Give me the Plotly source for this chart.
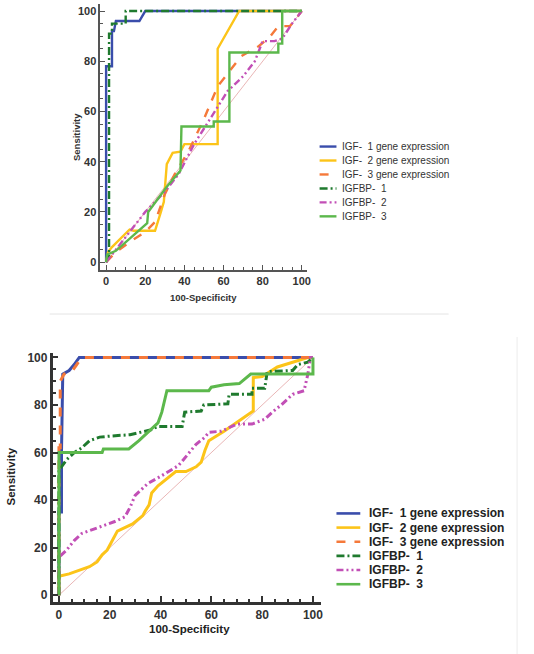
import plotly.graph_objects as go

# ---------------- data ----------------
series_names = ["IGF\u2010\u00a0 1 gene expression", "IGF\u2010\u00a0 2 gene expression",
                "IGF\u2010\u00a0 3 gene expression", "IGFBP\u2010\u00a0 1", "IGFBP\u2010\u00a0 2",
                "IGFBP\u2010\u00a0 3"]
colors = ["#3a4dab", "#fcc419", "#f5793a", "#1f7a2e", "#c24fb6", "#5cb84c"]
dashes = ["solid", "solid", "dash", "8px,3px,2px,3px", "7px,3px,2px,3px,2px,3px", "solid"]

tick_vals = [0, 20, 40, 60, 80, 100]

# top panel (100-Specificity, Sensitivity)
top_igf1_x = [0, 0, 3, 3, 4, 5, 17, 20, 100]
top_igf1_y = [0, 78, 78, 92, 92, 96, 96, 100, 100]
top_igf2_x = [0, 1, 3, 7, 12, 14, 25, 28, 29.5, 31, 34, 38, 40, 57, 57, 68, 100]
top_igf2_y = [0, 4, 6, 9, 13, 12.5, 12.5, 20, 24, 39, 43.5, 44, 47, 47, 85, 100, 100]
top_igf3_x = [0, 5, 12, 20, 25, 30, 35, 42, 50, 57, 63, 69, 78, 84, 88, 94, 100]
top_igf3_y = [0, 4, 8, 12, 16, 27, 35, 44, 57, 70, 76, 82, 86, 90, 94, 94, 100]
top_bp1_x = [0, 1.5, 1.5, 3, 3, 10, 10, 100]
top_bp1_y = [0, 2, 91, 91, 95, 95, 100, 100]
top_bp2_x = [0, 5, 10, 20, 30, 37, 45, 54, 62, 70, 76, 80, 86, 90, 95, 100]
top_bp2_y = [0, 5, 10, 20, 28, 35, 47, 58, 68, 74, 80, 88, 88, 89, 95, 100]
top_bp3_x = [0, 0.5, 5, 21, 21.5, 31, 38, 38.5, 55, 55, 63, 63, 88, 88, 90, 90, 100]
top_bp3_y = [0, 3, 4.5, 15.5, 20, 30, 36.5, 54, 54, 56, 56, 83.5, 83.5, 87, 87, 100, 100]

# bottom panel
bot_igf1_x = [0, 0, 1, 1, 1.5, 4, 6, 8, 100]
bot_igf1_y = [0, 35, 35, 60, 93, 94.5, 97, 100, 100]
bot_igf2_x = [0, 0, 4, 12, 15, 17, 19, 23, 29, 33, 34, 35.5, 36.5, 39, 46, 50, 54, 56, 57.5,
              59, 65, 71, 76.5, 76.5, 80, 86, 94, 98, 100]
bot_igf2_y = [0, 8, 9, 12, 14, 17, 19, 27, 30, 33.5, 35.5, 38, 43, 46, 52, 52, 54, 56, 61,
              65, 69, 73.5, 77.5, 91.5, 92, 96, 98.5, 100, 100]
bot_igf3_x = [0, 0, 0.5, 0.5, 2, 5, 7, 9, 100]
bot_igf3_y = [0, 62, 62, 90, 93, 94, 97, 100, 100]
bot_bp1_x = [0, 0, 1, 3, 6, 9, 12, 16, 21, 28, 36, 39, 48.5, 49.5, 56, 57, 66.5, 67, 76, 76,
             81, 82, 92, 94, 98, 100]
bot_bp1_y = [0, 53, 54, 57, 60, 62, 65, 66.5, 67, 67.5, 69.5, 71, 71, 77, 77.5, 80, 80.5,
             84.5, 84.5, 87, 87, 94, 94.5, 97, 98, 100]
bot_bp2_x = [0, 0, 3, 6, 9, 17, 22, 26, 28, 30, 35, 40, 47, 49, 52, 54, 57.5, 59, 64, 70, 76,
             81, 84, 87.5, 92, 96.5, 98, 99, 100]
bot_bp2_y = [0, 16, 19, 23, 26, 29, 31, 33, 37, 42, 47, 50, 54.5, 57, 61, 63.5, 66.5, 68.5,
             69, 72, 72, 74, 77, 80, 84.5, 86, 93, 100, 100]
bot_bp3_x = [0, 0, 17, 17.5, 27.5, 31.5, 39, 40.5, 42.5, 59, 60, 65, 71, 75.5, 100, 100]
bot_bp3_y = [0, 60, 60, 61.5, 61.5, 65, 72.5, 77, 86, 86, 87.5, 88.5, 89, 93, 93, 100]

diag = [0, 100]

top_series = [(top_igf1_x, top_igf1_y), (top_igf2_x, top_igf2_y), (top_igf3_x, top_igf3_y),
              (top_bp1_x, top_bp1_y), (top_bp2_x, top_bp2_y), (top_bp3_x, top_bp3_y)]
bot_series = [(bot_igf1_x, bot_igf1_y), (bot_igf2_x, bot_igf2_y), (bot_igf3_x, bot_igf3_y),
              (bot_bp1_x, bot_bp1_y), (bot_bp2_x, bot_bp2_y), (bot_bp3_x, bot_bp3_y)]

# ---------------- figure ----------------
W, H = 534, 654
def fx(px):
    return px / W
def fy(py):
    return 1 - py / H

FONT = "Liberation Sans, Arial"
fig = go.Figure()

# diagonal reference lines
for xa, ya in [("x", "y"), ("x2", "y2")]:
    fig.add_trace(go.Scatter(x=diag, y=diag, mode="lines", xaxis=xa, yaxis=ya,
                             line=dict(color="#e3a3a3", width=0.8), showlegend=False,
                             hoverinfo="skip"))

for i, (xs, ys) in enumerate(top_series):
    fig.add_trace(go.Scatter(x=xs, y=ys, mode="lines", name=series_names[i],
                             xaxis="x", yaxis="y", showlegend=False,
                             line=dict(color=colors[i], width=2.4, dash=dashes[i])))
for i, (xs, ys) in enumerate(bot_series):
    fig.add_trace(go.Scatter(x=xs, y=ys, mode="lines", name=series_names[i],
                             xaxis="x2", yaxis="y2", showlegend=False,
                             line=dict(color=colors[i], width=3, dash=dashes[i])))


def axis(domain, rng, color, lw, tlen, mlen, fsize, anchor):
    return dict(domain=domain, range=rng, anchor=anchor, showgrid=False, zeroline=False,
                showline=True, linecolor=color, linewidth=lw, mirror=False,
                tickmode="array", tickvals=tick_vals, ticks="inside", ticklen=tlen,
                tickwidth=max(1, lw * 0.7), tickcolor=color,
                tickfont=dict(family=FONT, size=fsize, color="#333333", weight="bold"),
                minor=dict(tickmode="array", tickvals=[v for v in range(0, 101, 5) if v % 20],
                           ticks="inside", ticklen=mlen, tickcolor=color,
                           tickwidth=max(1, lw * 0.6)),
                fixedrange=True)

layout = dict(
    width=W, height=H, margin=dict(l=0, r=0, t=0, b=0),
    paper_bgcolor="white", plot_bgcolor="white", showlegend=False,
    xaxis=axis([fx(101), fx(309)], [-3, 102.5], "#555555", 1.5, 5, 3, 11, "y"),
    yaxis=axis([fy(269), fy(2)], [-3.2, 102.8], "#555555", 1.5, 5, 3, 11, "x"),
    xaxis2=axis([fx(53), fx(323)], [-2.5, 103], "#333333", 2.5, 6, 3.5, 12, "y2"),
    yaxis2=axis([fy(602), fy(352)], [-2.9, 101.9], "#333333", 2.5, 6, 3.5, 12, "x2"),
)
fig.update_layout(**layout)

annotations = []
shapes = []


def label(text, px, py, size, color, angle=0):
    annotations.append(dict(text=text, x=fx(px), y=fy(py), xref="paper", yref="paper",
                            xanchor="center", yanchor="middle", textangle=angle,
                            showarrow=False, font=dict(family=FONT, size=size, color=color)))


# axis titles
label("<b>Sensitivity</b>", 77, 135, 9.5, "#333", -90)
label("<b>100-Specificity</b>", 205, 296, 9.5, "#333")
label("<b>Sensitivity</b>", 11, 476, 11.5, "#222", -90)
label("<b>100-Specificity</b>", 191, 629, 11.5, "#222")


# legends (drawn as keys, 14 px row spacing)
def legend(x0, x1, xt, y0, step, fsize, bold, lw, fcolor):
    for i, name in enumerate(series_names):
        yy = y0 + i * step
        shapes.append(dict(type="line", xref="paper", yref="paper", x0=fx(x0), x1=fx(x1),
                           y0=fy(yy), y1=fy(yy),
                           line=dict(color=colors[i], width=lw, dash=dashes[i])))
        txt = f"<b>{name}</b>" if bold else name
        annotations.append(dict(text=txt, x=fx(xt), y=fy(yy), xref="paper", yref="paper",
                                xanchor="left", yanchor="middle", showarrow=False,
                                font=dict(family=FONT, size=fsize, color=fcolor)))


legend(322, 339, 343, 145, 14, 10, False, 2.4, "#333")
legend(339, 363, 370, 513, 14.2, 12, True, 2.6, "#222")

# separators
shapes.append(dict(type="line", xref="paper", yref="paper", x0=fx(50), x1=fx(452),
                   y0=fy(313), y1=fy(313), line=dict(color="#e4e4e4", width=1)))
shapes.append(dict(type="line", xref="paper", yref="paper", x0=fx(521), x1=fx(521),
                   y0=fy(336), y1=fy(654), line=dict(color="#ececec", width=1)))

fig.update_layout(annotations=annotations, shapes=shapes)
fig.write_html("out.html")
